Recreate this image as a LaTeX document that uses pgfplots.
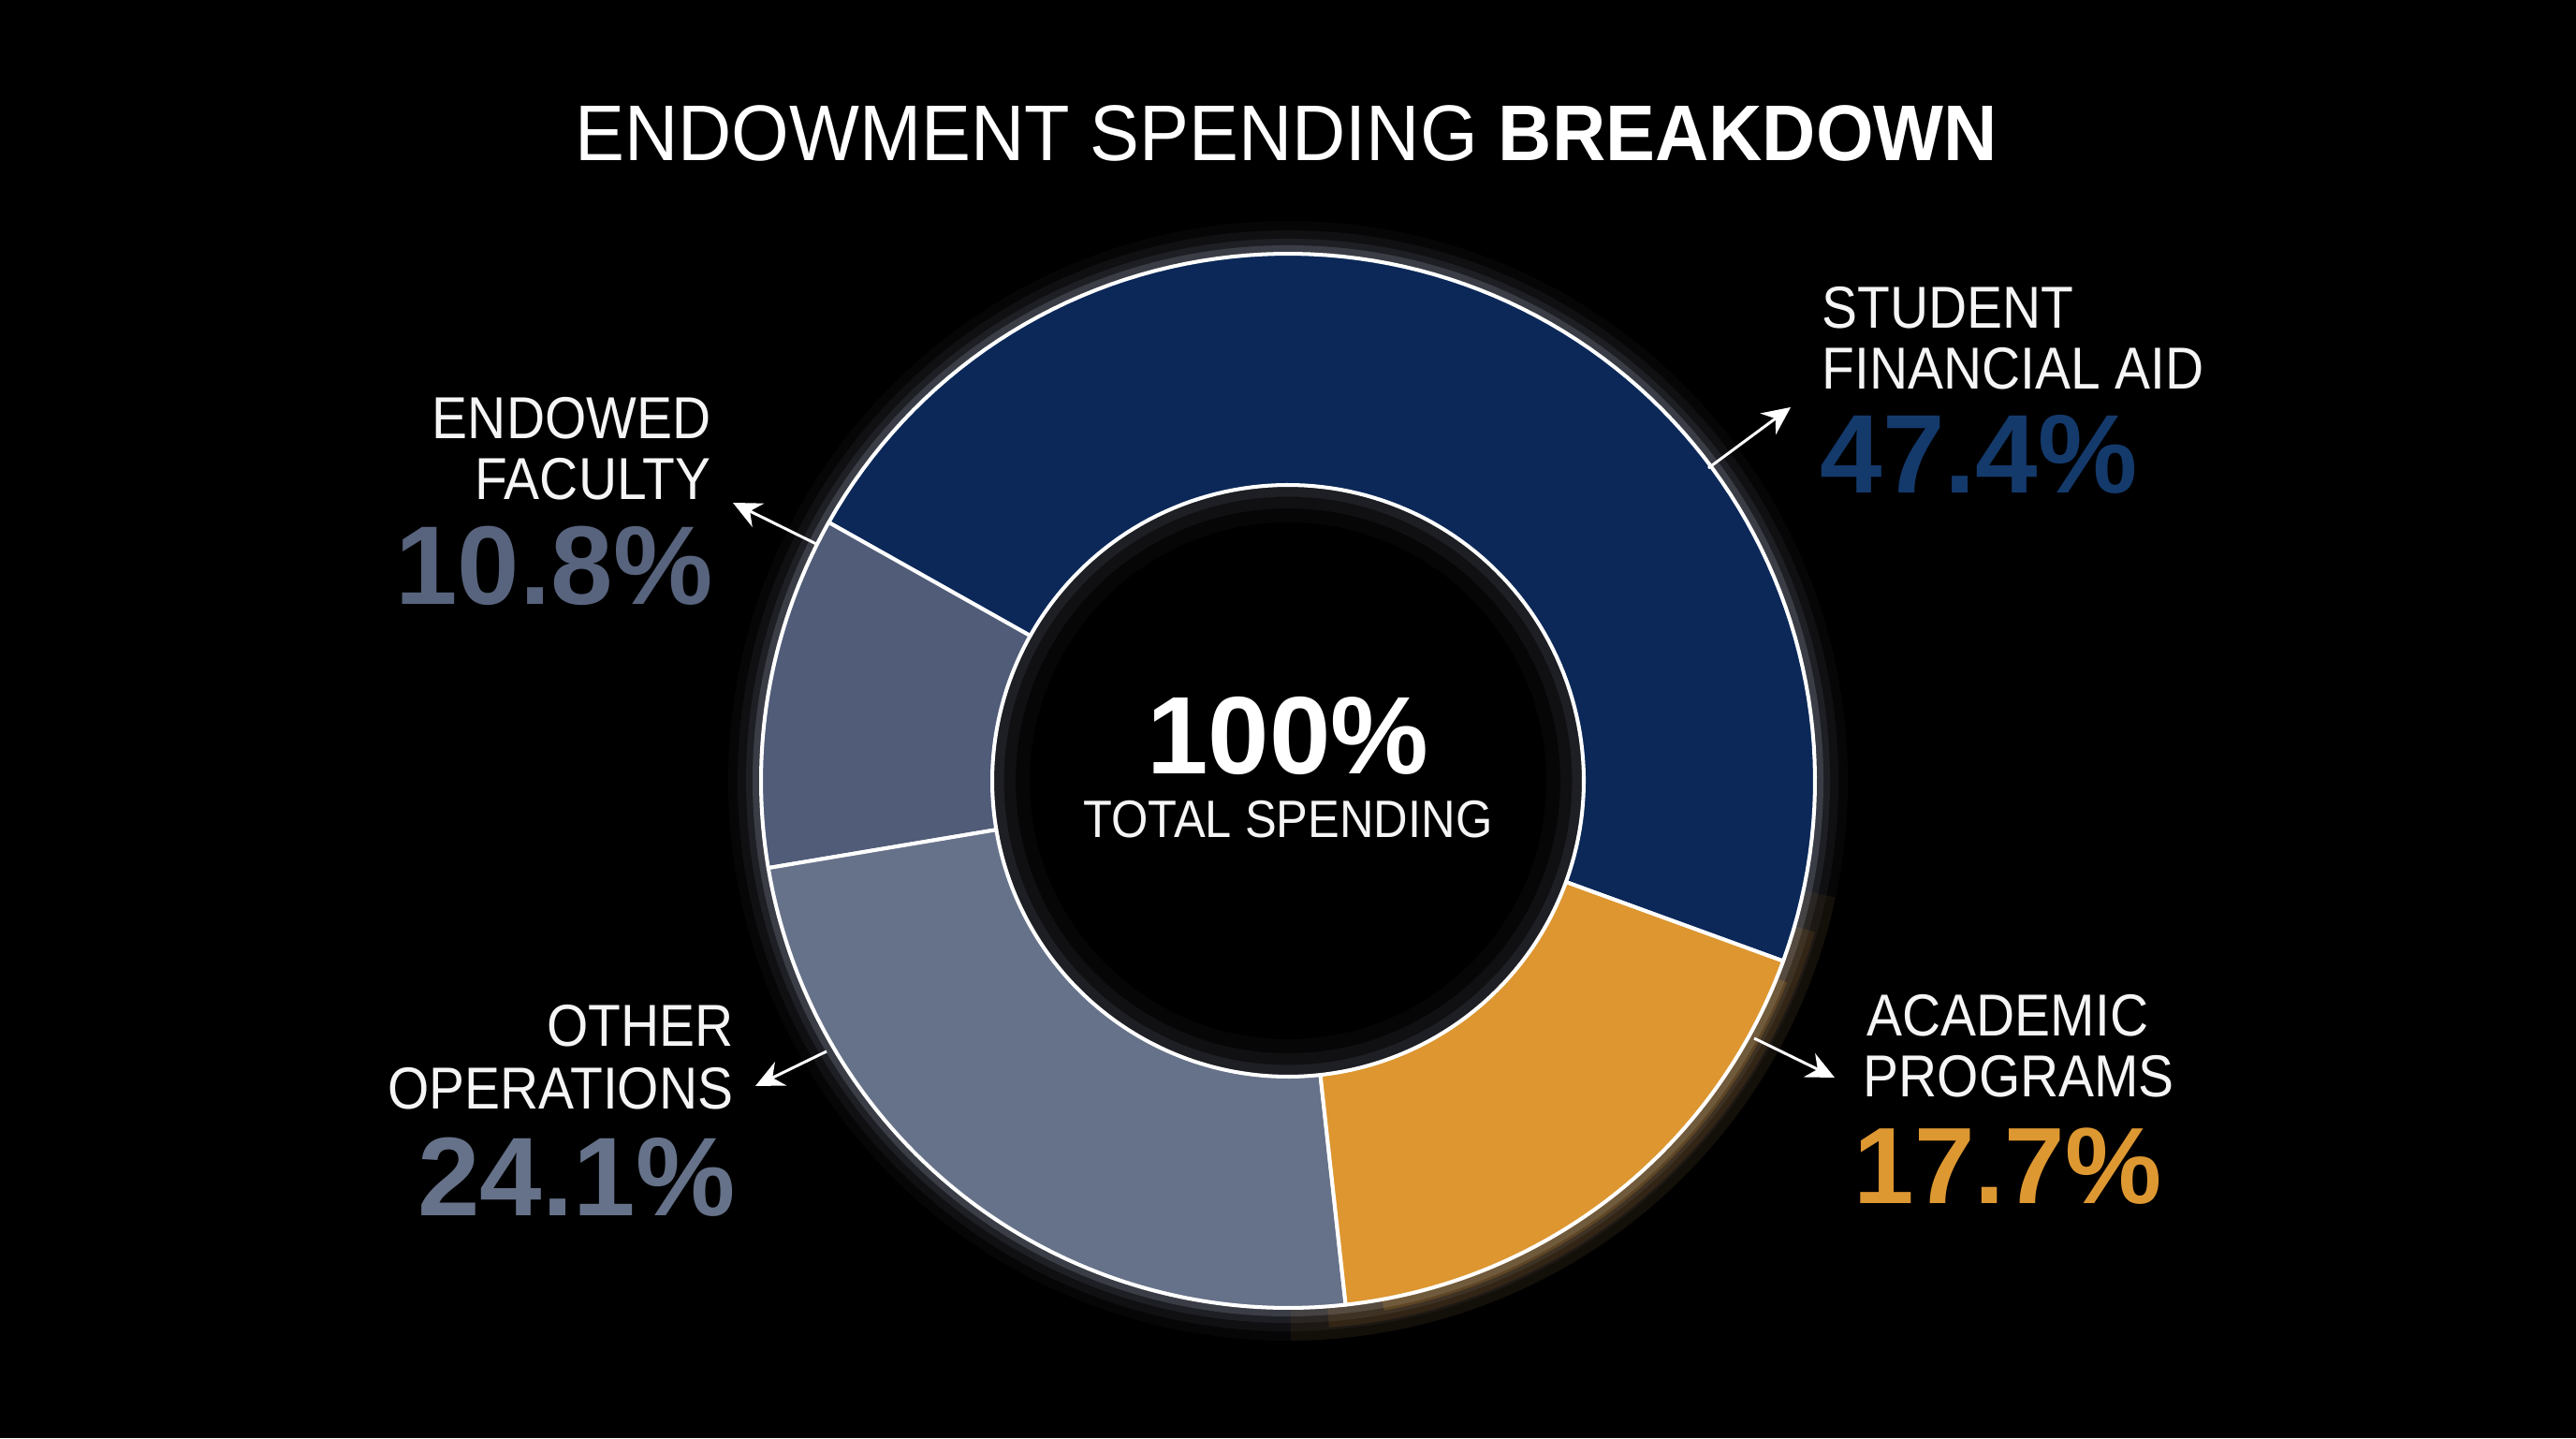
\documentclass[border=0pt]{standalone}
\usepackage{fontspec}
\setmainfont{Liberation Sans}
\newfontfamily\labfont[FakeStretch=0.9]{Liberation Sans}
\newfontfamily\titfont[FakeStretch=0.94]{Liberation Sans}
\usepackage{pgfplots}
\usepackage{pgfplotstable}
\pgfplotsset{compat=1.18}
\usetikzlibrary{arrows.meta}

\definecolor{cStudent}{RGB}{11,40,88}
\definecolor{cFaculty}{RGB}{80,92,120}
\definecolor{cOther}{RGB}{102,114,137}
\definecolor{cAcademic}{RGB}{221,150,48}
\definecolor{tStudent}{RGB}{20,58,108}
\definecolor{tFaculty}{RGB}{88,99,125}
\definecolor{tOther}{RGB}{102,114,137}
\definecolor{tAcademic}{RGB}{222,152,50}
\definecolor{glowW}{RGB}{205,218,245}
\definecolor{glowO}{RGB}{240,160,45}
\definecolor{txt}{RGB}{245,245,245}

\pgfplotstableread{
category value
StudentFinancialAid 47.4
EndowedFaculty 10.8
OtherOperations 24.1
AcademicPrograms 17.7
}\spending

% donut segment: colour, start angle, end angle
\newcommand{\seg}[3]{%
 \addplot[fill=#1, draw=white, line width=1.15pt, line join=round, domain=0:2, samples=201, variable=\t]
 ({1376 + ((\t<=1.005) ? 563 : 316)*cos(((\t<=1.005) ? (#2+(#3-#2)*\t) : (#3-(#3-#2)*(\t-1.01)/0.99)))},
  {702 + ((\t<=1.005) ? 563 : 316)*sin(((\t<=1.005) ? (#2+(#3-#2)*\t) : (#3-(#3-#2)*(\t-1.01)/0.99)))}) -- cycle;
}
% glow arc: start angle, end angle, style
\newcommand{\glowarc}[3]{%
 \addplot[#3, domain=#1:#2, samples=80, variable=\t] ({1376+563*cos(\t)}, {702+563*sin(\t)});
}

\begin{document}
\begin{tikzpicture}
\pgfmathsetmacro{\aS}{-20}
\pgfplotstablegetelem{0}{value}\of\spending \pgfmathsetmacro{\aA}{\aS+3.6*\pgfplotsretval}
\pgfplotstablegetelem{1}{value}\of\spending \pgfmathsetmacro{\aB}{\aA+3.6*\pgfplotsretval}
\pgfplotstablegetelem{2}{value}\of\spending \pgfmathsetmacro{\aC}{\aB+3.6*\pgfplotsretval}
\pgfplotstablegetelem{3}{value}\of\spending \pgfmathsetmacro{\aD}{\aC+3.6*\pgfplotsretval}
\pgfmathsetmacro{\gA}{\aC-360-6}
\pgfmathsetmacro{\gB}{\aD-360+8}
\pgfmathsetmacro{\gC}{\aC-360-2}
\pgfmathsetmacro{\gD}{\aD-360+4}
\pgfmathsetmacro{\gE}{\aC-360+4}
\pgfmathsetmacro{\gF}{\aD-360-2}
\begin{axis}[
  width=275.2mm, height=153.6mm, scale only axis,
  xmin=0, xmax=2752, ymin=0, ymax=1536,
  hide axis, clip=false,
]
\fill[black] (axis cs:0,0) rectangle (axis cs:2752,1536);
% outer glow
\draw[glowW, line width=7mm, opacity=0.03] (axis cs:1376,702) circle[radius=56.3mm];
\draw[glowW, line width=5mm, opacity=0.05] (axis cs:1376,702) circle[radius=56.3mm];
\draw[glowW, line width=3.2mm, opacity=0.08] (axis cs:1376,702) circle[radius=56.3mm];
\draw[glowW, line width=1.8mm, opacity=0.16] (axis cs:1376,702) circle[radius=56.3mm];
\glowarc{\gA}{\gB}{glowO, line width=7mm, opacity=0.06}
\glowarc{\gC}{\gD}{glowO, line width=4.5mm, opacity=0.1}
\glowarc{\gE}{\gF}{glowO, line width=2.4mm, opacity=0.18}
% inner glow
\draw[glowW, line width=8mm, opacity=0.03] (axis cs:1376,702) circle[radius=31.6mm];
\draw[glowW, line width=5mm, opacity=0.05] (axis cs:1376,702) circle[radius=31.6mm];
\draw[glowW, line width=2.5mm, opacity=0.08] (axis cs:1376,702) circle[radius=31.6mm];
% donut
\seg{cStudent}{\aS}{\aA}
\seg{cFaculty}{\aA}{\aB}
\seg{cOther}{\aB}{\aC}
\seg{cAcademic}{\aC}{\aD}
% title
\node[anchor=base, text=white, font=\titfont\fontsize{24}{28}\selectfont] at (axis cs:1374,1364) {ENDOWMENT SPENDING \textbf{BREAKDOWN}};
% centre
\node[anchor=base, text=white, font=\bfseries\fontsize{33.5}{38}\selectfont] at (axis cs:1376,709) {100\%};
\node[anchor=base, text=txt, font=\labfont\fontsize{16}{19}\selectfont] at (axis cs:1376,641) {TOTAL SPENDING};
% labels
\node[anchor=base west, inner sep=0pt, text=txt, font=\labfont\fontsize{18}{21}\selectfont] at (axis cs:1946,1185) {STUDENT};
\node[anchor=base west, inner sep=0pt, text=txt, font=\labfont\fontsize{18}{21}\selectfont] at (axis cs:1946,1120) {FINANCIAL AID};
\node[anchor=base west, inner sep=0pt, text=tStudent, font=\bfseries\fontsize{34}{38}\selectfont] at (axis cs:1944,1009) {47.4\%};
\node[anchor=base east, inner sep=0pt, text=txt, font=\labfont\fontsize{18}{21}\selectfont] at (axis cs:760,1067) {ENDOWED};
\node[anchor=base east, inner sep=0pt, text=txt, font=\labfont\fontsize{18}{21}\selectfont] at (axis cs:760,1002) {FACULTY};
\node[anchor=base east, inner sep=0pt, text=tFaculty, font=\bfseries\fontsize{34}{38}\selectfont] at (axis cs:762,890) {10.8\%};
\node[anchor=base east, inner sep=0pt, text=txt, font=\labfont\fontsize{18}{21}\selectfont] at (axis cs:784,418) {OTHER};
\node[anchor=base east, inner sep=0pt, text=txt, font=\labfont\fontsize{18}{21}\selectfont] at (axis cs:784,351) {OPERATIONS};
\node[anchor=base east, inner sep=0pt, text=tOther, font=\bfseries\fontsize{34}{38}\selectfont] at (axis cs:786,237) {24.1\%};
\node[anchor=base west, inner sep=0pt, text=txt, font=\labfont\fontsize{18}{21}\selectfont] at (axis cs:1994,429) {ACADEMIC};
\node[anchor=base west, inner sep=0pt, text=txt, font=\labfont\fontsize{18}{21}\selectfont] at (axis cs:1990,364) {PROGRAMS};
\node[anchor=base west, inner sep=0pt, text=tAcademic, font=\bfseries\fontsize{33}{38}\selectfont] at (axis cs:1980,250) {17.7\%};
% arrows
\draw[white, line width=0.85pt, -{Stealth[length=3mm, width=2.8mm]}] (axis cs:1825,1036) -- (axis cs:1913,1101);
\draw[white, line width=0.85pt, -{Stealth[length=3mm, width=2.8mm]}] (axis cs:872,955) -- (axis cs:783,999);
\draw[white, line width=0.85pt, -{Stealth[length=3mm, width=2.8mm]}] (axis cs:883,413) -- (axis cs:807,376);
\draw[white, line width=0.85pt, -{Stealth[length=3mm, width=2.8mm]}] (axis cs:1874,427) -- (axis cs:1960,385);
\end{axis}
\end{tikzpicture}
\end{document}
